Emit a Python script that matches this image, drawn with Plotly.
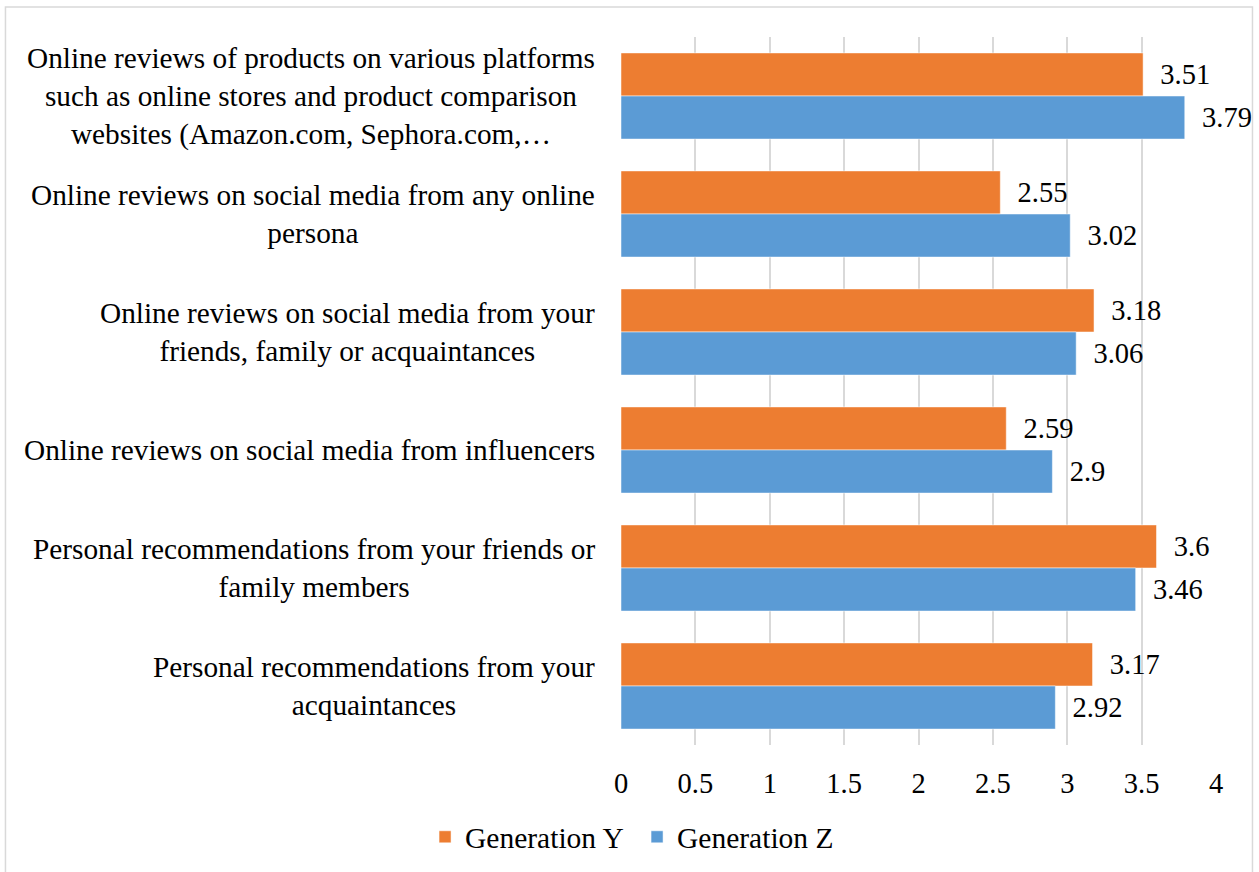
import plotly.graph_objects as go

# Survey categories, top to bottom
categories = [
    "Online reviews of products on various platforms<br>such as online stores and product comparison<br>websites (Amazon.com, Sephora.com,…",
    "Online reviews on social media from any online<br>persona",
    "Online reviews on social media from your<br>friends, family or acquaintances",
    "Online reviews on social media from influencers",
    "Personal recommendations from your friends or<br>family members",
    "Personal recommendations from your<br>acquaintances",
]
gen_y = [3.51, 2.55, 3.18, 2.59, 3.6, 3.17]
gen_z = [3.79, 3.02, 3.06, 2.9, 3.46, 2.92]

x_ticks = [0, 0.5, 1, 1.5, 2, 2.5, 3, 3.5, 4]
x_tick_labels = ["0", "0.5", "1", "1.5", "2", "2.5", "3", "3.5", "4"]

FONT = "Liberation Serif, Times New Roman, serif"
ORANGE = "#ED7D31"
BLUE = "#5B9BD5"
GRID = "#D9D9D9"

# y positions are category indices so labels can be placed on the same scale
ypos = list(range(len(categories)))

fig = go.Figure()
for name, vals, color in [("Generation Y", gen_y, ORANGE), ("Generation Z", gen_z, BLUE)]:
    fig.add_trace(go.Bar(
        name=name,
        x=vals,
        y=ypos,
        orientation="h",
        marker=dict(color=color, line=dict(color="white", width=0.5)),
        text=[f"{v:g}" for v in vals],
        texttemplate="\u00a0\u00a0%{text}",
        textposition="outside",
        constraintext="none",
        cliponaxis=False,
        textfont=dict(family=FONT, size=28.5, color="black"),
    ))

# Category labels, centred line by line like a wrapped axis label
for i, label in enumerate(categories):
    fig.add_annotation(
        x=0, xref="paper", y=i, yref="y",
        text=label, showarrow=False,
        xanchor="right", yanchor="middle", align="center",
        xshift=-24,
        font=dict(family=FONT, size=29.3, color="black"),
    )

# Light grey frame around the whole chart
fig.add_shape(
    type="rect", xref="paper", yref="paper",
    x0=-1.0345, x1=1.0613, y0=-0.19, y1=1.0424,
    line=dict(color=GRID, width=1.5), fillcolor="rgba(0,0,0,0)",
    layer="below",
)

fig.update_layout(
    width=1259, height=872,
    margin=dict(l=621, r=43, t=37, b=127),
    paper_bgcolor="white",
    plot_bgcolor="white",
    barmode="group",
    bargap=0.27,
    bargroupgap=0,
    font=dict(family=FONT, size=28, color="black"),
    xaxis=dict(
        range=[0, 4],
        tickvals=x_ticks,
        ticktext=x_tick_labels,
        showgrid=True, gridcolor=GRID, gridwidth=1.5,
        zeroline=False, showline=False, ticks="",
        ticklabelstandoff=18,
        tickfont=dict(family=FONT, size=28.5, color="black"),
    ),
    yaxis=dict(
        range=[len(categories) - 0.5, -0.5],
        showticklabels=False, showgrid=False, zeroline=False,
        showline=False, ticks="",
    ),
    legend=dict(
        orientation="h",
        xref="container", yref="container",
        x=0.506, xanchor="center", y=0.04, yanchor="middle",
        traceorder="normal",
        font=dict(family=FONT, size=29.5, color="black"),
        itemwidth=30,
        entrywidth=167, entrywidthmode="pixels",
    ),
    showlegend=True,
)

fig.write_html("out.html")
